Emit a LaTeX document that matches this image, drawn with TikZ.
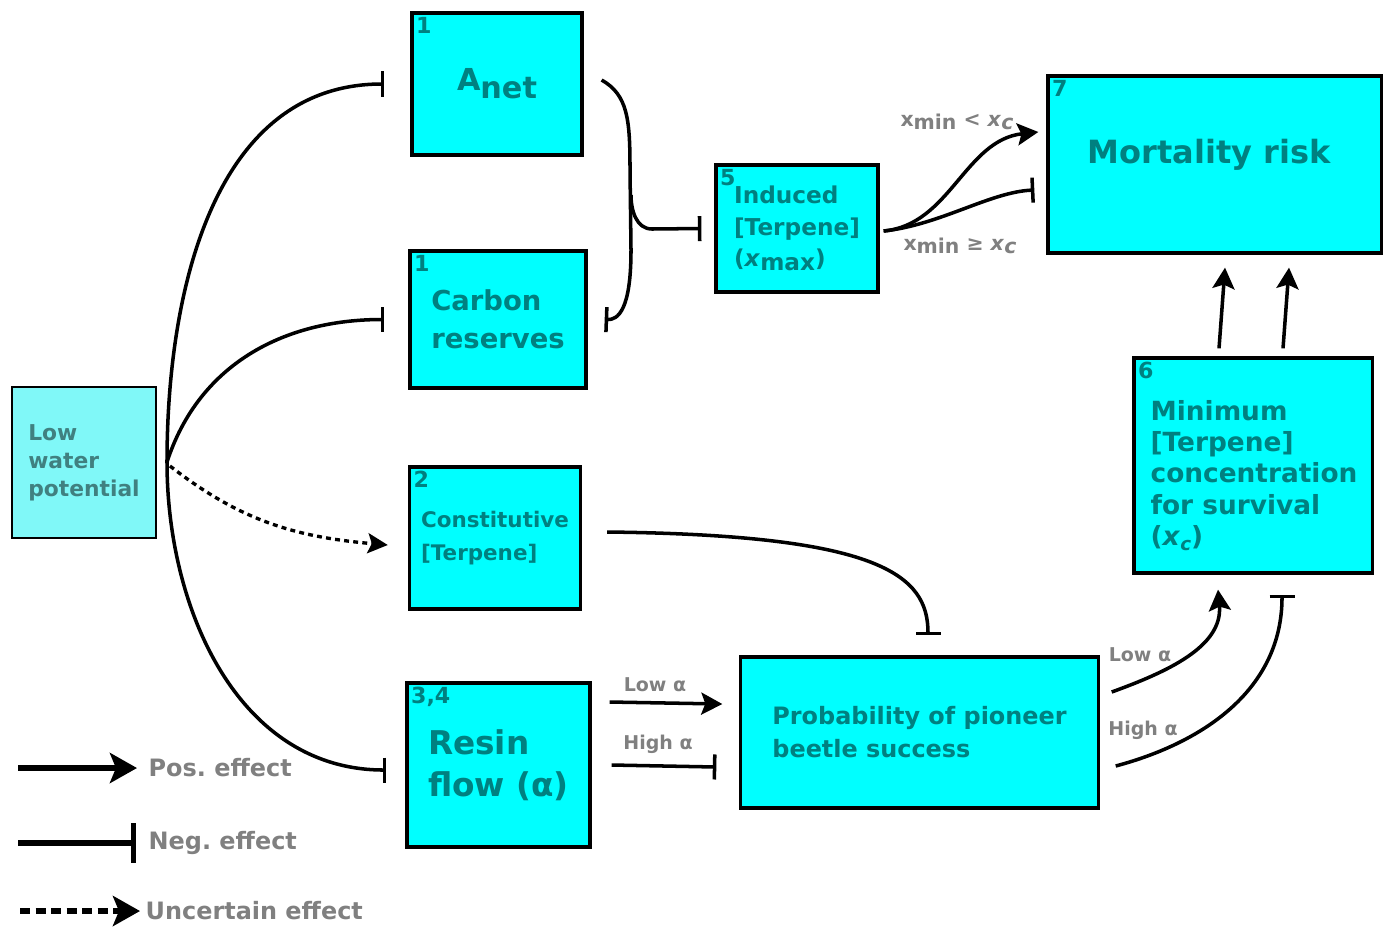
\documentclass[tikz,border=0pt]{standalone}
\usepackage{fontspec}
\setmainfont{DejaVu Sans}
\usepackage{xcolor}
\usepackage{tikz}
\usetikzlibrary{calc,positioning,arrows.meta}
\frenchspacing

\definecolor{boxfill}{RGB}{0,255,255}
\definecolor{boxtext}{RGB}{0,128,128}
\definecolor{lowfill}{RGB}{128,248,248}
\definecolor{lowtext}{RGB}{64,128,128}
\definecolor{labgrey}{RGB}{128,128,128}

\begin{document}
\begin{tikzpicture}[x=0.01cm,y=-0.01cm,
        box/.style={draw=black, line width=0.9pt, fill=boxfill, text=boxtext, align=left},
        numtag/.style={anchor=north west, inner sep=0.05cm, text=boxtext, font=\bfseries\fontsize{6.3}{7}\selectfont},
        elabel/.style={text=labgrey, font=\bfseries\fontsize{5.4}{6}\selectfont},
        leglabel/.style={anchor=west, inner sep=0pt, text=labgrey, font=\bfseries\fontsize{6.8}{8}\selectfont},
        posfx/.style={line width=1pt, -{Stealth[length=0.21cm,width=0.22cm,inset=0.04cm]}},
        negfx/.style={line width=1pt, -{Bar[width=0.25cm]}},
        uncfx/.style={line width=0.95pt, dash pattern=on 1.4pt off 1.2pt, -{Stealth[length=0.2cm,width=0.2cm,inset=0.04cm]}},
    ]
    \useasboundingbox (0,0) rectangle (1386,927);

    % Nodes
    \node[box, draw=black, line width=0.7pt, fill=lowfill, text=lowtext, minimum width=1.44cm, minimum height=1.51cm,
          font=\bfseries\fontsize{6.2}{8}\selectfont] (lwp) at (84,462.5) {Low\\water\\potential};

    \node[box, minimum width=1.70cm, minimum height=1.42cm] (anet) at (497,84)
        {\bfseries\fontsize{8.6}{10}\selectfont\raisebox{0.08cm}{A}net};
    \node[box, minimum width=1.76cm, minimum height=1.37cm, font=\bfseries\fontsize{7.8}{10.8}\selectfont] (carbon) at (498,319.5)
        {Carbon\\reserves};
    \node[box, minimum width=1.70cm, minimum height=1.42cm, font=\bfseries\fontsize{6.1}{9.4}\selectfont] (const) at (495,538)
        {Constitutive\\{[}Terpene{]}};
    \node[box, minimum width=1.83cm, minimum height=1.64cm, font=\bfseries\fontsize{9.3}{12}\selectfont] (resin) at (498.5,765)
        {Resin\\flow (α)};

    \node[box, minimum width=1.62cm, minimum height=1.27cm, font=\bfseries\fontsize{6.6}{9}\selectfont] (ind) at (797,228.5)
        {Induced\\{[}Terpene{]}\\(\textit{x}\raisebox{-0.04cm}{max})};
    \node[box, minimum width=3.33cm, minimum height=1.77cm] (mort) at (1214.5,164.5) {};
    \node[text=boxtext, font=\bfseries\fontsize{9.1}{11}\selectfont] (mortT) at (1209,155) {Mortality risk};

    \node[box, minimum width=2.38cm, minimum height=2.15cm] (minc) at (1253,465.5) {};
    \node[text=boxtext, align=left, font=\bfseries\fontsize{7.5}{8.9}\selectfont] (mincT) at (1254,475.5)
        {Minimum\\{[}Terpene{]}\\concentration\\for survival\\(\textit{x}\raisebox{-0.05cm}{\fontsize{5.2}{6}\selectfont\textit{c}})};

    \node[box, minimum width=3.57cm, minimum height=1.51cm, font=\bfseries\fontsize{6.8}{9.4}\selectfont] (prob) at (919.5,732.5)
        {Probability of pioneer\\beetle success};

    \node[numtag] (n1a) at (anet.north west) {1};
    \node[numtag] (n1b) at (carbon.north west) {1};
    \node[numtag] (n2) at (const.north west) {2};
    \node[numtag] (n34) at (resin.north west) {3,4};
    \node[numtag] (n5) at (ind.north west) {5};
    \node[numtag] (n7) at (mort.north west) {7};
    \node[numtag] (n6) at (minc.north west) {6};

    \coordinate (hub) at (167,462);
    \coordinate (join) at (631,195);

    % Edges
    \draw[negfx] (hub) to[out=90,in=180] ([xshift=-0.26cm]anet.west);
    \draw[negfx] (hub) to[out=72,in=180] ([xshift=-0.24cm]carbon.west);
    \draw[uncfx] ([shift={(3,4)}]hub) to[out=-38,in=175] ([shift={(-20,7)}]const.west);
    \draw[negfx] (hub) to[out=-90,in=180] ([shift={(-19,5)}]resin.west);

    \draw[negfx] ([shift={(18,-4)}]anet.east) .. controls (628,95) and (630,120) .. (630,170) -- (631,250)
        .. controls (631,310) and (618,320) .. ([xshift=0.17cm]carbon.east);
    \draw[negfx] (join) to[out=-90,in=180] (652,229) -- ([xshift=-0.13cm]ind.west);

    \draw[posfx] ([shift={(4,2.5)}]ind.east) .. controls (950,225) and (965,140) .. ([shift={(-8,-32.5)}]mort.west);
    \draw[negfx] ([shift={(4,2.5)}]ind.east) .. controls (940,225) and (990,192) .. ([shift={(-12,25.5)}]mort.west);
    \node[elabel, font=\bfseries\fontsize{5.8}{7}\selectfont] (lt) at (957,122)
        {x\raisebox{-0.03cm}{min} < \textit{x}\raisebox{-0.03cm}{\textit{c}}};
    \node[elabel, font=\bfseries\fontsize{5.8}{7}\selectfont] (ge) at (960,246)
        {x\raisebox{-0.03cm}{min} ≥ \textit{x}\raisebox{-0.03cm}{\textit{c}}};

    \draw[negfx] ([shift={(25,-6)}]const.east) .. controls (880,535) and (928,575) .. ([shift={(8.5,-20)}]prob.north);

    \draw[posfx] ([shift={(18,-63)}]resin.east) -- ([shift={(-17,-28.5)}]prob.west);
    \draw[negfx] ([xshift=0.2cm]resin.east) -- ([shift={(-23,34.5)}]prob.west);
    \node[elabel] (lowa) at (655,685) {Low α};
    \node[elabel] (higha) at (658,744) {High α};

    \draw[posfx] ([shift={(12,-40.5)}]prob.east) to[out=20,in=-85] ([shift={(-35,15)}]minc.south);
    \draw[negfx] ([shift={(16,33.5)}]prob.east) to[out=15,in=-90] ([shift={(29,20)}]minc.south);
    \node[elabel] (lowb) at (1140,655) {Low α};
    \node[elabel] (highb) at (1143,730) {High α};

    \draw[posfx] ([shift={(-34,-8)}]minc.north) -- ([shift={(10.5,13)}]mort.south);
    \draw[posfx] ([shift={(30,-8)}]minc.north) -- ([shift={(74.5,13)}]mort.south);

    % Legend
    \node[leglabel] (posL) at (148,768) {Pos. effect};
    \node[leglabel] (negL) at (148,843) {Neg. effect};
    \node[leglabel] (uncL) at (145,911) {Uncertain effect};
    \coordinate (posS) at (18,768);
    \coordinate (negS) at (18,843);
    \coordinate (uncS) at (20,911);
    \draw[line width=1.5pt, -{Stealth[length=0.27cm,width=0.3cm,inset=0.06cm]}] (posS) -- ([xshift=-0.11cm]posL.west);
    \draw[line width=1.5pt, -{Bar[width=0.4cm]}] (negS) -- ([xshift=-0.12cm]negL.west);
    \draw[line width=1.6pt, dash pattern=on 0.1cm off 0.055cm, -{Stealth[length=0.27cm,width=0.3cm,inset=0.06cm]}]
        (uncS) -- ([xshift=-0.05cm]uncL.west);
\end{tikzpicture}
\end{document}
